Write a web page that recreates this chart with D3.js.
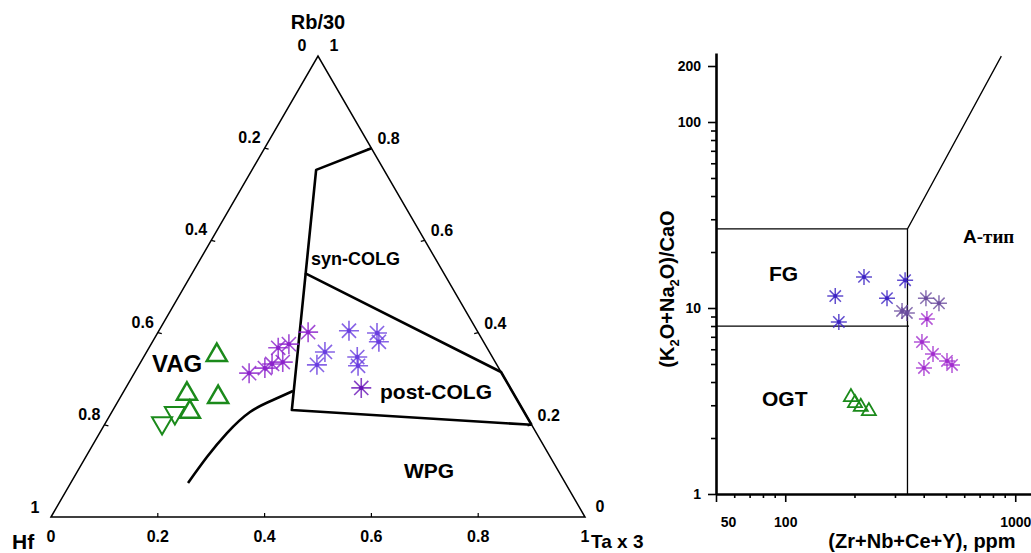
<!DOCTYPE html>
<meta charset="utf-8">
<head>
  <meta charset="utf-8">
  <title>Hf - Rb/30 - Ta*3 and (Zr+Nb+Ce+Y) diagrams</title>
  <style>
    body { margin: 0; background: #fff; }
    svg { font-family: "Liberation Sans", Arial, sans-serif; font-weight: bold; }
  </style>
</head>
<body>
<script src="https://cdn.jsdelivr.net/npm/d3@7/dist/d3.min.js"></script>
<script>

// ---- ternary data, each point is [Hf, Rb/30, Ta*3] ----
var vagUp = [[0.514,0.351,0.135],[0.612,0.267,0.121],[0.557,0.260,0.183],[0.626,0.228,0.146]];
var vagDown = [[0.690,0.204,0.106],[0.655,0.226,0.119]];
var ternPurple = [[0.473,0.312,0.215],[0.438,0.323,0.239],[0.420,0.332,0.248],[0.398,0.336,0.266],
                  [0.392,0.367,0.242],[0.367,0.375,0.258],[0.318,0.401,0.281]];
var ternBlue = [[0.308,0.358,0.334],[0.337,0.330,0.333],[0.240,0.404,0.356],[0.253,0.347,0.400],
                [0.261,0.328,0.411],[0.190,0.399,0.411],[0.196,0.380,0.424]];
var ternDark = [[0.279,0.280,0.441]];

// field boundaries
var synColgLine = [[0,0.8,0.2],[0.127,0.753,0.120],[0.433,0.232,0.335],[0,0.2,0.8]];
var postColgLine = [[0.260,0.529,0.211],[0,0.3145,0.6855],[0,0.2,0.8]];
var vagCurve = [[0.7065,0.0738,0.2197],[0.643,0.130,0.227],[0.579,0.182,0.2385],
                [0.513,0.2278,0.2588],[0.457,0.2538,0.2888],[0.410,0.2733,0.3166]];
var ternTicks = [0.2, 0.4, 0.6, 0.8];

// ---- (Zr+Nb+Ce+Y) vs (K2O+Na2O)/CaO data ----
var xyBlue = [[220,14.7],[165,11.6],[171,8.41],[277,11.3],[332,14.1]];
var xyGrey = [[322,9.64],[338,9.4],[409,11.3],[466,10.6]];
var xyMagenta = [[413,8.73],[393,6.56],[439,5.66],[505,5.19],[531,4.94],[401,4.76]];
var xyGreen = [[193,3.32],[201,3.08],[213,2.94],[231,2.79]];
var fieldLines = [
  [[50,26.6],[340,26.6]],
  [[50,8.0],[345,8.0]],
  [[340,1],[340,26.6],[870,226]]
];
var xTickLabels = [50, 100, 1000];
var xMinor = [60,70,80,90,200,300,400,500,600,700,800,900];
var yTickLabels = [1, 10, 100, 200];
var yMinor = [2,3,4,5,6,7,8,9,20,30,40,50,60,70,80,90];

var svg = d3.select("body").append("svg")
    .attr("width", 1031)
    .attr("height", 553);

// asterisk marker path
function asterisk(r) {
  var p = "";
  [0, 45, 90, 135].forEach(function(a) {
    var c = Math.cos(a * Math.PI / 180) * r, s = Math.sin(a * Math.PI / 180) * r;
    p += "M" + c + "," + s + "L" + (-c) + "," + (-s);
  });
  return p;
}

// ================= ternary =================
var tx = d3.scaleLinear().domain([0, 1]).range([51, 585]);
var ty = d3.scaleLinear().domain([0, 1]).range([517, 56]);
function tp(d) { return [tx(d[2] + d[1] / 2), ty(d[1])]; }

var tern = svg.append("g");

// frame
tern.append("path")
    .attr("d", d3.line()([tp([1,0,0]), tp([0,1,0]), tp([0,0,1])]) + "Z")
    .attr("fill", "none")
    .attr("stroke", "#000")
    .attr("stroke-width", 1.5);

// ticks and labels
ternTicks.forEach(function(t) {
  var b = tp([1 - t, 0, t]);
  tern.append("line").attr("x1", b[0]).attr("x2", b[0]).attr("y1", b[1]).attr("y2", b[1] - 4)
      .attr("stroke", "#000").attr("stroke-width", 1.2);
  tern.append("text").attr("x", b[0]).attr("y", 542).attr("text-anchor", "middle")
      .style("font-size", "16px").text(t);

  var l = tp([t, 1 - t, 0]);
  tern.append("line").attr("x1", l[0]).attr("x2", l[0] + 4).attr("y1", l[1]).attr("y2", l[1] + 1)
      .attr("stroke", "#000").attr("stroke-width", 1.2);
  tern.append("text").attr("x", l[0] - 4).attr("y", l[1] - 5).attr("text-anchor", "end")
      .style("font-size", "16px").text(t);

  var r = tp([0, t, 1 - t]);
  tern.append("line").attr("x1", r[0]).attr("x2", r[0] - 4).attr("y1", r[1]).attr("y2", r[1] + 1)
      .attr("stroke", "#000").attr("stroke-width", 1.2);
  tern.append("text").attr("x", r[0] + 6).attr("y", r[1] - 4).attr("text-anchor", "start")
      .style("font-size", "16px").text(t);
});

// corner labels
var apex = tp([0,1,0]), left = tp([1,0,0]), right = tp([0,0,1]);
tern.append("text").attr("x", apex[0]).attr("y", 29).attr("text-anchor", "middle")
    .style("font-size", "20px").text("Rb/30");
tern.append("text").attr("x", apex[0] - 16).attr("y", 51).attr("text-anchor", "middle")
    .style("font-size", "16px").text("0");
tern.append("text").attr("x", apex[0] + 16).attr("y", 51).attr("text-anchor", "middle")
    .style("font-size", "16px").text("1");
tern.append("text").attr("x", left[0] - 16).attr("y", 513).attr("text-anchor", "middle")
    .style("font-size", "16px").text("1");
tern.append("text").attr("x", left[0]).attr("y", 542).attr("text-anchor", "middle")
    .style("font-size", "16px").text("0");
tern.append("text").attr("x", 12).attr("y", 549).style("font-size", "21px").text("Hf");
tern.append("text").attr("x", right[0] + 15).attr("y", 512).attr("text-anchor", "middle")
    .style("font-size", "16px").text("0");
tern.append("text").attr("x", right[0]).attr("y", 542).attr("text-anchor", "middle")
    .style("font-size", "16px").text("1");
tern.append("text").attr("x", right[0] + 6).attr("y", 548).style("font-size", "19px").text("Ta x 3");

// field boundaries
var tline = d3.line().x(function(d) { return tp(d)[0]; }).y(function(d) { return tp(d)[1]; });
tern.append("path").attr("d", tline(synColgLine))
    .attr("fill", "none").attr("stroke", "#000").attr("stroke-width", 2.6).attr("stroke-linejoin", "round");
tern.append("path").attr("d", tline(postColgLine))
    .attr("fill", "none").attr("stroke", "#000").attr("stroke-width", 2.6).attr("stroke-linejoin", "round");
tern.append("path").attr("d", tline.curve(d3.curveNatural)(vagCurve))
    .attr("fill", "none").attr("stroke", "#000").attr("stroke-width", 2.6);

// field names
tern.append("text").attr("x", 311).attr("y", 265).style("font-size", "18px").text("syn-COLG");
tern.append("text").attr("x", 380).attr("y", 399).style("font-size", "21px").text("post-COLG");
tern.append("text").attr("x", 404).attr("y", 478).style("font-size", "21px").text("WPG");
tern.append("text").attr("x", 152).attr("y", 372).style("font-size", "24px").text("VAG");

// points
function ternStars(data, color) {
  var g = tern.append("g");
  data.forEach(function(d) {
    var p = tp(d);
    g.append("path").attr("transform", "translate(" + p[0] + "," + p[1] + ")")
        .attr("d", asterisk(10)).attr("stroke", color).attr("stroke-width", 1.6).attr("opacity", 0.8);
    g.append("circle").attr("cx", p[0]).attr("cy", p[1]).attr("r", 2.2).attr("fill", color);
  });
}
ternStars(ternPurple, "#8c22cc");
ternStars(ternBlue, "#6a3ee0");
ternStars(ternDark, "#6a14b8");

var triUp = d3.symbol().type(d3.symbolTriangle).size(175);
tern.selectAll(".tri-up").data(vagUp).enter().append("path")
    .attr("class", "tri-up")
    .attr("transform", function(d) { var p = tp(d); return "translate(" + p[0] + "," + p[1] + ")"; })
    .attr("d", triUp)
    .attr("fill", "none").attr("stroke", "#1b8a1b").attr("stroke-width", 2.5);
tern.selectAll(".tri-down").data(vagDown).enter().append("path")
    .attr("class", "tri-down")
    .attr("transform", function(d) { var p = tp(d); return "translate(" + p[0] + "," + p[1] + ") rotate(180)"; })
    .attr("d", triUp)
    .attr("fill", "none").attr("stroke", "#1b8a1b").attr("stroke-width", 2.0);

// ================= log-log plot =================
var x = d3.scaleLog().domain([50, 1200]).range([716, 716 + 230 * Math.log10(24)]);
var y = d3.scaleLog().domain([1, 235]).range([494, 494 - 186 * Math.log10(235)]);

var plot = svg.append("g");

// boundaries
var xyline = d3.line().x(function(d) { return x(d[0]); }).y(function(d) { return y(d[1]); });
fieldLines.forEach(function(l) {
  plot.append("path").attr("d", xyline(l))
      .attr("fill", "none").attr("stroke", "#000").attr("stroke-width", 1.3);
});

// axes
plot.append("g").attr("transform", "translate(716,0)")
    .call(d3.axisLeft(y).tickValues(yTickLabels).tickSize(8).tickSizeOuter(0).tickPadding(7)
          .tickFormat(d3.format("d")));
plot.append("g").attr("transform", "translate(716,0)")
    .call(d3.axisLeft(y).tickValues(yMinor).tickSize(5).tickFormat(""))
    .select(".domain").remove();
var xAxis = plot.append("g").attr("transform", "translate(0,494)")
    .call(d3.axisBottom(x).tickValues(xTickLabels).tickSize(8).tickSizeOuter(0).tickPadding(15)
          .tickFormat(d3.format("d")));
plot.append("g").attr("transform", "translate(0,494)")
    .call(d3.axisBottom(x).tickValues(xMinor).tickSize(4).tickFormat(""))
    .select(".domain").remove();

plot.selectAll(".domain").attr("stroke-width", 2.6);
plot.selectAll(".tick line").attr("stroke-width", 1.6);
plot.selectAll(".tick text")
    .style("font-family", "Liberation Sans, Arial, sans-serif")
    .style("font-weight", "bold")
    .style("font-size", "14px");
xAxis.selectAll(".tick text").filter(function(d) { return d === 50; }).attr("dx", 12);

// axis titles
plot.append("text").attr("x", 922).attr("y", 548).attr("text-anchor", "middle")
    .style("font-size", "20px").text("(Zr+Nb+Ce+Y), ppm");
var yt = plot.append("text").attr("transform", "translate(674,289) rotate(-90)")
    .attr("text-anchor", "middle").style("font-size", "20px");
yt.append("tspan").text("(K");
yt.append("tspan").attr("dy", 5).style("font-size", "13px").text("2");
yt.append("tspan").attr("dy", -5).text("O+Na");
yt.append("tspan").attr("dy", 5).style("font-size", "13px").text("2");
yt.append("tspan").attr("dy", -5).text("O)/CaO");

// field names
plot.append("text").attr("x", 769).attr("y", 281).style("font-size", "21px").text("FG");
plot.append("text").attr("x", 762).attr("y", 406).style("font-size", "21px").text("OGT");
var at = plot.append("text").attr("x", 963).attr("y", 243).style("font-size", "19px");
at.append("tspan").text("A");
at.append("tspan").style("font-family", "Liberation Serif, serif").text("-тип");

// points
function plotStars(data, color) {
  var g = plot.append("g");
  data.forEach(function(d) {
    g.append("path").attr("transform", "translate(" + x(d[0]) + "," + y(d[1]) + ")")
        .attr("d", asterisk(8)).attr("stroke", color).attr("stroke-width", 1.5).attr("opacity", 0.8);
    g.append("circle").attr("cx", x(d[0])).attr("cy", y(d[1])).attr("r", 2).attr("fill", color);
  });
}
plotStars(xyBlue, "#3b22c4");
plotStars(xyGrey, "#6b4c9e");
plotStars(xyMagenta, "#a22ccf");

var triSmall = d3.symbol().type(d3.symbolTriangle).size(85);
plot.selectAll(".tri-xy").data(xyGreen).enter().append("path")
    .attr("class", "tri-xy")
    .attr("transform", function(d) { return "translate(" + x(d[0]) + "," + y(d[1]) + ")"; })
    .attr("d", triSmall)
    .attr("fill", "none").attr("stroke", "#1b8a1b").attr("stroke-width", 1.8);

</script>
</body>
